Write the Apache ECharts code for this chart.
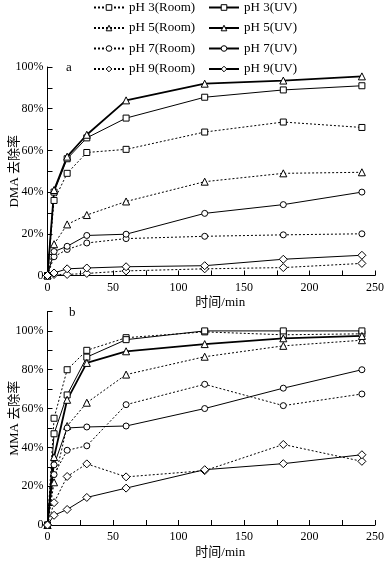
<!DOCTYPE html>
<html>
<head>
<meta charset="utf-8">
<script src="https://cdn.jsdelivr.net/npm/echarts@6/dist/echarts.min.js"></script>
<style>html,body{margin:0;padding:0;background:#fff}#c{width:389px;height:561px}</style>
</head>
<body>
<div id="c"></div>
<script>
// time axis (min)
const times = [0, 5, 15, 30, 60, 120, 180, 240];
const seriesNames = ['pH 3(Room)', 'pH 5(Room)', 'pH 7(Room)', 'pH 9(Room)', 'pH 3(UV)', 'pH 5(UV)', 'pH 7(UV)', 'pH 9(UV)'];

// Panel a: DMA removal (%)
const dmaPH3Room = [0, 36, 49, 59, 60.5, 68.8, 73.6, 71];
const dmaPH3UV   = [0, 40, 56, 66, 75.5, 85.5, 89, 91];
const dmaPH5Room = [0, 15, 24.5, 29, 35.5, 45, 49, 49.5];
const dmaPH5UV   = [0, 41, 57, 67.5, 84, 92, 93.5, 95.5];
const dmaPH7Room = [0, 9, 12.5, 15.6, 17.7, 18.8, 19.5, 20];
const dmaPH7UV   = [0, 11.5, 14, 19.2, 19.8, 29.8, 34, 40];
const dmaPH9Room = [0, 0.5, 0.5, 1, 2.2, 3.2, 3.8, 5.8];
const dmaPH9UV   = [0, 1.2, 3.2, 3.6, 4.2, 4.7, 7.8, 9.7];

// Panel b: MMA removal (%)
const mmaPH3Room = [0, 55, 80, 90, 96.5, 99.5, 98, 98.5];
const mmaPH3UV   = [0, 47, 67, 86.5, 95.5, 100, 100, 100];
const mmaPH5Room = [0, 22, 51, 63, 77.5, 86.7, 92.3, 95.2];
const mmaPH5UV   = [0, 35, 64.5, 83.5, 89.5, 93.2, 96.2, 97.4];
const mmaPH7Room = [0, 26, 38.5, 40.8, 62, 72.5, 61.5, 67.5];
const mmaPH7UV   = [0, 31, 50, 50.5, 51, 60, 70.5, 80];
const mmaPH9Room = [0, 11.5, 25, 31.5, 24.8, 28, 41.5, 32.8];
const mmaPH9UV   = [0, 5, 8, 14.2, 19, 28.5, 31.6, 36.2];

const xTicks = [0, 50, 100, 150, 200, 250];
const yTicks = [0, 20, 40, 60, 80, 100];

const FONT = '"Liberation Serif", "Times New Roman", serif';
const CJK = '"Liberation Serif", "Noto Sans CJK SC", serif';

const styles = {
  'pH 3(Room)': {symbol: 'rect', size: 6, dash: [2, 2], w: 1},
  'pH 5(Room)': {symbol: 'triangle', size: 7, dash: [2, 2], w: 1},
  'pH 7(Room)': {symbol: 'circle', size: 6, dash: [2, 2], w: 1},
  'pH 9(Room)': {symbol: 'diamond', size: 8, dash: [2, 2], w: 1},
  'pH 3(UV)': {symbol: 'rect', size: 6, dash: 'solid', w: 1},
  'pH 5(UV)': {symbol: 'triangle', size: 7, dash: 'solid', w: 1.8},
  'pH 7(UV)': {symbol: 'circle', size: 6, dash: 'solid', w: 1},
  'pH 9(UV)': {symbol: 'diamond', size: 8, dash: 'solid', w: 1}
};

const dmaData = {
  'pH 3(Room)': dmaPH3Room, 'pH 5(Room)': dmaPH5Room, 'pH 7(Room)': dmaPH7Room, 'pH 9(Room)': dmaPH9Room,
  'pH 3(UV)': dmaPH3UV, 'pH 5(UV)': dmaPH5UV, 'pH 7(UV)': dmaPH7UV, 'pH 9(UV)': dmaPH9UV
};
const mmaData = {
  'pH 3(Room)': mmaPH3Room, 'pH 5(Room)': mmaPH5Room, 'pH 7(Room)': mmaPH7Room, 'pH 9(Room)': mmaPH9Room,
  'pH 3(UV)': mmaPH3UV, 'pH 5(UV)': mmaPH5UV, 'pH 7(UV)': mmaPH7UV, 'pH 9(UV)': mmaPH9UV
};

function mkSeries(name, vals, idx) {
  const s = styles[name];
  return {
    name: name, type: 'line', xAxisIndex: idx, yAxisIndex: idx,
    data: times.map((t, i) => [t, vals[i]]),
    symbol: s.symbol, symbolSize: s.size, showAllSymbol: true,
    lineStyle: {color: '#000', width: s.w, type: s.dash},
    itemStyle: {color: '#fff', borderColor: '#000', borderWidth: 1},
    emphasis: {disabled: true}
  };
}

function xAxis(idx) {
  return {
    type: 'value', gridIndex: idx, min: 0, max: 250, interval: 25,
    axisLine: {lineStyle: {color: '#000', width: 1}},
    axisTick: {inside: true, length: 5, lineStyle: {color: '#000'}},
    axisLabel: {color: '#000', fontFamily: FONT, fontSize: 12, margin: 6,
      formatter: v => xTicks.indexOf(v) >= 0 ? String(v) : ''},
    splitLine: {show: false},
    name: '时间/min', nameLocation: 'middle', nameGap: 21, nameMoveOverlap: false,
    nameTextStyle: {color: '#000', fontFamily: CJK, fontSize: 13, padding: [0, 0, 0, 18]}
  };
}
function yAxis(idx, max, name) {
  return {
    type: 'value', gridIndex: idx, min: 0, max: max, interval: 10,
    axisLine: {show: true, lineStyle: {color: '#000', width: 1}},
    axisTick: {show: true, inside: true, length: 5, lineStyle: {color: '#000'}},
    axisLabel: {color: '#000', fontFamily: FONT, fontSize: 12, margin: 4, showMaxLabel: true,
      formatter: v => yTicks.indexOf(v) >= 0 ? (v === 0 ? '0' : v + '%') : ''},
    splitLine: {show: false},
    name: name, nameLocation: 'middle', nameGap: 26, nameRotate: 90, nameMoveOverlap: false,
    nameTextStyle: {color: '#000', fontFamily: CJK, fontSize: 13}
  };
}

const series = [];
seriesNames.forEach(n => series.push(mkSeries(n, dmaData[n], 0)));
seriesNames.forEach(n => series.push(mkSeries(n, mmaData[n], 1)));

const legendCommon = {
  orient: 'vertical', itemWidth: 30, itemHeight: 7, itemGap: 5.5, top: 0,
  itemStyle: {color: '#fff', borderColor: '#000', borderWidth: 1},
  textStyle: {color: '#000', fontFamily: FONT, fontSize: 13, lineHeight: 15}, selectedMode: false, padding: 0
};

const chart = echarts.init(document.getElementById('c'), null, {renderer: 'canvas'});
chart.setOption({
  animation: false,
  backgroundColor: '#fff',
  grid: [
    {left: 47.5, right: 14, top: 67, bottom: 285.5, containLabel: false, outerBoundsMode: 'none'},
    {left: 47.5, right: 14, top: 311.5, bottom: 36, containLabel: false, outerBoundsMode: 'none'}
  ],
  xAxis: [xAxis(0), xAxis(1)],
  yAxis: [yAxis(0, 100, 'DMA 去除率'), yAxis(1, 110, 'MMA 去除率')],
  legend: [
    Object.assign({left: 93, data: seriesNames.slice(0, 4)}, legendCommon),
    Object.assign({left: 208, data: seriesNames.slice(4)}, legendCommon)
  ],
  graphic: [
    {type: 'text', left: 66, top: 61, style: {text: 'a', font: '13px ' + FONT, fill: '#000'}},
    {type: 'text', left: 69, top: 306, style: {text: 'b', font: '13px ' + FONT, fill: '#000'}}
  ],
  series: series
});
</script>
</body>
</html>
